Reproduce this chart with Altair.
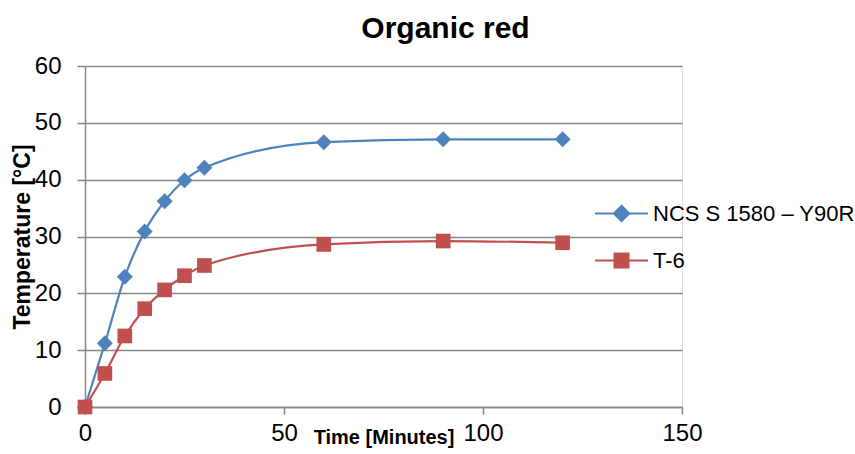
import altair as alt
import pandas as pd

# Measured temperature over time for two surface samples
minutes = [0, 5, 10, 15, 20, 25, 30, 60, 90, 120]
ncs_temp = [0, 11.2, 22.9, 30.9, 36.2, 39.9, 42.1, 46.6, 47.1, 47.1]
t6_temp = [0, 5.9, 12.5, 17.3, 20.6, 23.1, 24.9, 28.6, 29.2, 28.9]
series_names = ["NCS S 1580 – Y90R", "T-6"]
series_colors = ["#4F81BD", "#C0504D"]
x_ticks = [0, 50, 100, 150]
y_ticks = [0, 10, 20, 30, 40, 50, 60]

rows = []
for name, vals in zip(series_names, [ncs_temp, t6_temp]):
    for m, v in zip(minutes, vals):
        rows.append({"Time": m, "Temp": v, "Series": name})
df = pd.DataFrame(rows)

FONT = "Liberation Sans"
GRAY = "#878787"

x_enc = alt.X(
    "Time:Q",
    scale=alt.Scale(domain=[0, 150], nice=False, zero=False),
    axis=alt.Axis(
        values=x_ticks, grid=False, title="Time [Minutes]",
        titleFontSize=20, titleFontWeight="bold", titleFont=FONT,
        titleY=36, titleBaseline="alphabetic",
        labelFontSize=24, labelFont=FONT, labelColor="#000000",
        labelPadding=7, labelFlush=False,
        tickSize=7, tickColor=GRAY, domainColor=GRAY,
        tickWidth=1.5, domainWidth=1.5,
    ),
)
y_enc = alt.Y(
    "Temp:Q",
    scale=alt.Scale(domain=[0, 60], nice=False),
    axis=alt.Axis(
        values=y_ticks, grid=True, gridColor=GRAY, gridWidth=1.5,
        title="Temperature [°C]", titleFontSize=23, titleFontWeight="bold",
        titleFont=FONT, titleX=-63, titleBaseline="middle", titleAngle=-90,
        labelFontSize=24, labelFont=FONT, labelColor="#000000",
        labelPadding=16, labelFlush=False,
        tickSize=8, tickColor=GRAY, domainColor=GRAY,
        tickWidth=1.5, domainWidth=1.5,
    ),
)
color_scale = alt.Scale(domain=series_names, range=series_colors)

# Legend symbols: a short line segment with the series marker on it
legend_paths = [
    "M-2,0L2,0M0,-0.58L0.58,0L0,0.58L-0.58,0Z",
    "M-2,0L2,0M-0.53,-0.53L0.53,-0.53L0.53,0.53L-0.53,0.53Z",
]

lines = alt.Chart(df).mark_line(interpolate="monotone", strokeWidth=2.2).encode(
    x=x_enc, y=y_enc,
    color=alt.Color("Series:N", scale=color_scale, legend=None),
    detail="Series:N",
)

points = alt.Chart(df).mark_point(filled=True, opacity=1).encode(
    x=x_enc, y=y_enc,
    color=alt.Color("Series:N", scale=color_scale, legend=None),
    shape=alt.Shape(
        "Series:N",
        scale=alt.Scale(domain=series_names, range=["diamond", "square"]),
        legend=None,
    ),
    size=alt.Size(
        "Series:N",
        scale=alt.Scale(domain=series_names, range=[256, 215]),
        legend=None,
    ),
)

legend_props = dict(
    title=None, orient="none", legendX=522, legendY=133,
    labelFont=FONT, labelFontSize=22, labelColor="#000000", labelLimit=0,
    symbolSize=702, rowPadding=20, labelOffset=17, symbolStrokeWidth=2,
    symbolOpacity=1,
)

# Legend-only layer: no rows survive the filter, the scales carry the entries
legend_layer = (
    alt.Chart(df)
    .transform_filter("false")
    .mark_point(filled=True, opacity=1, strokeWidth=2, size=702)
    .encode(
        x=x_enc, y=y_enc,
        color=alt.Color("Series:N", scale=color_scale,
                        legend=alt.Legend(**legend_props)),
        stroke=alt.Stroke("Series:N", scale=color_scale,
                          legend=alt.Legend(**legend_props)),
        shape=alt.Shape("Series:N",
                        scale=alt.Scale(domain=series_names, range=legend_paths),
                        legend=alt.Legend(**legend_props)),
    )
)

chart = (
    alt.layer(lines, points, legend_layer)
    .resolve_scale(color="independent", shape="independent",
                   size="independent", stroke="independent")
    .properties(
        width=597, height=341,
        title=alt.TitleParams(
            "Organic red", fontSize=30, fontWeight="bold", font=FONT,
            anchor="middle", dx=62, dy=41, offset=27, baseline="alphabetic",
            color="#000000",
        ),
        autosize=alt.AutoSizeParams(type="none"),
        padding={"left": 85, "top": 66, "right": 173, "bottom": 47},
    )
    .configure_view(stroke=None, strokeOpacity=0, strokeWidth=0)
    .configure(background="#ffffff")
)

chart.save("out.html", embed_options={"renderer": "svg", "actions": False})
